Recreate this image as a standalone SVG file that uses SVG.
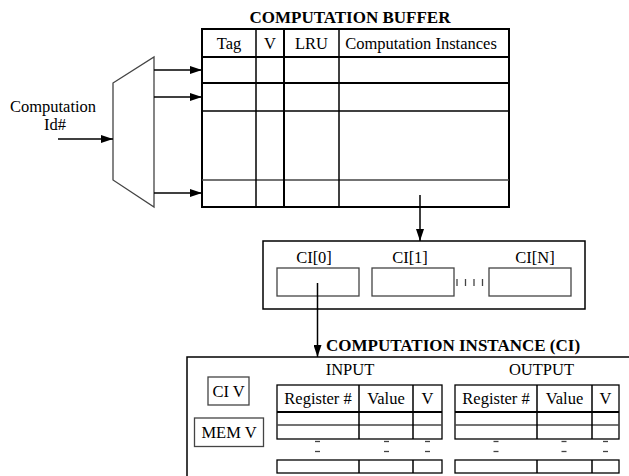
<svg xmlns="http://www.w3.org/2000/svg" width="629" height="476" viewBox="0 0 629 476">
<style>
text{font-family:"Liberation Serif","Times New Roman",serif;font-size:16.5px;fill:#000}
.b{font-weight:bold;font-size:17px}
.m{text-anchor:middle}
.k{stroke:#000;stroke-width:1.5;fill:none}
.kt{stroke:#000;stroke-width:2;fill:none}
.g{stroke:#444;stroke-width:1.3;fill:none}
.w{stroke:#000;stroke-width:1.3;fill:#fff}
.ws{stroke:#444;stroke-width:1.3;fill:#fff}
</style>
<defs>
<marker id="ah" markerWidth="12" markerHeight="8" refX="12" refY="4" orient="auto" markerUnits="userSpaceOnUse">
<path d="M0,0 L12,4 L0,8 Z" fill="#000"/>
</marker>
</defs>

<g id="buffer">
<text class="b m" x="350" y="23">COMPUTATION  BUFFER</text>
<rect class="kt" x="202" y="29" width="307" height="178"/>
<line class="kt" x1="202" y1="57" x2="509" y2="57"/>
<line class="kt" x1="202" y1="83" x2="509" y2="83"/>
<line class="k" x1="202" y1="111" x2="509" y2="111"/>
<line class="g" x1="202" y1="180" x2="509" y2="180"/>
<line class="k" x1="256" y1="29" x2="256" y2="207"/>
<line class="kt" x1="284" y1="29" x2="284" y2="207"/>
<line class="k" x1="339" y1="29" x2="339" y2="207"/>
<text class="m" x="229" y="49">Tag</text>
<text class="m" x="270" y="49">V</text>
<text class="m" x="311.5" y="49">LRU</text>
<text class="m" x="421" y="49">Computation Instances</text>
</g>

<g id="mux">
<polygon class="g" points="113,83 154,57 154,207 113,180"/>
</g>

<g id="input-label">
<text class="m" x="53" y="112">Computation</text>
<text class="m" x="55" y="130">Id#</text>
</g>

<g id="ci-array">
<rect class="k" x="263" y="241" width="322" height="68"/>
<rect class="ws" x="277" y="268" width="82" height="28"/>
<rect class="ws" x="372" y="268" width="82" height="28"/>
<rect class="ws" x="489" y="268" width="82" height="28"/>
<text class="m" x="314" y="263">CI[0]</text>
<text class="m" x="410" y="263">CI[1]</text>
<text class="m" x="535" y="263">CI[N]</text>
<g class="g">
<line x1="457" y1="279" x2="457" y2="286"/>
<line x1="465.5" y1="279" x2="465.5" y2="286"/>
<line x1="474" y1="279" x2="474" y2="286"/>
<line x1="482.5" y1="279" x2="482.5" y2="286"/>
</g>
</g>

<g id="ci-instance">
<text class="b" x="326" y="351">COMPUTATION  INSTANCE (CI)</text>
<path class="k" d="M629,357 H187 V476"/>
<rect class="ws" x="208" y="377" width="41" height="28"/>
<text class="m" x="228.5" y="397">CI V</text>
<rect class="ws" x="194.5" y="418" width="69" height="28.5"/>
<text class="m" x="229" y="438">MEM V</text>
</g>

<g id="input-table">
<text class="m" x="350" y="375">INPUT</text>
<rect class="w" x="277" y="385" width="165" height="54"/>
<line class="kt" x1="277" y1="412" x2="442" y2="412"/>
<line class="g" x1="277" y1="425" x2="442" y2="425"/>
<line class="k" x1="359" y1="385" x2="359" y2="439"/>
<line class="k" x1="413" y1="385" x2="413" y2="439"/>
<rect class="w" x="277" y="460" width="165" height="13"/>
<line class="k" x1="359" y1="460" x2="359" y2="473"/>
<line class="k" x1="413" y1="460" x2="413" y2="473"/>
<text class="m" x="318" y="404">Register #</text>
<text class="m" x="386" y="404">Value</text>
<text class="m" x="427.5" y="404">V</text>
<g class="g">
<line x1="315" y1="441.5" x2="320" y2="441.5"/><line x1="315" y1="451.5" x2="320" y2="451.5"/>
<line x1="384" y1="441.5" x2="389" y2="441.5"/><line x1="384" y1="451.5" x2="389" y2="451.5"/>
<line x1="425" y1="441.5" x2="430" y2="441.5"/><line x1="425" y1="451.5" x2="430" y2="451.5"/>
</g>
</g>

<g id="output-table">
<text class="m" x="541.5" y="375">OUTPUT</text>
<rect class="w" x="455" y="385" width="164" height="54"/>
<line class="kt" x1="455" y1="412" x2="619" y2="412"/>
<line class="g" x1="455" y1="425" x2="619" y2="425"/>
<line class="k" x1="537" y1="385" x2="537" y2="439"/>
<line class="k" x1="592" y1="385" x2="592" y2="439"/>
<rect class="w" x="455" y="460" width="164" height="13"/>
<line class="k" x1="537" y1="460" x2="537" y2="473"/>
<line class="k" x1="592" y1="460" x2="592" y2="473"/>
<text class="m" x="496" y="404">Register #</text>
<text class="m" x="564.5" y="404">Value</text>
<text class="m" x="605.5" y="404">V</text>
<g class="g">
<line x1="493.5" y1="441.5" x2="498.5" y2="441.5"/><line x1="493.5" y1="451.5" x2="498.5" y2="451.5"/>
<line x1="561.5" y1="441.5" x2="566.5" y2="441.5"/><line x1="561.5" y1="451.5" x2="566.5" y2="451.5"/>
<line x1="603" y1="441.5" x2="608" y2="441.5"/><line x1="603" y1="451.5" x2="608" y2="451.5"/>
</g>
</g>

<g id="connectors">
<line class="k" x1="58" y1="139" x2="113" y2="139" marker-end="url(#ah)"/>
<line class="k" x1="154" y1="70" x2="202" y2="70" marker-end="url(#ah)"/>
<line class="k" x1="154" y1="97" x2="202" y2="97" marker-end="url(#ah)"/>
<line class="k" x1="154" y1="193" x2="202" y2="193" marker-end="url(#ah)"/>
<line class="k" x1="420" y1="195" x2="420" y2="241" marker-end="url(#ah)"/>
<line class="k" x1="317.5" y1="283" x2="317.5" y2="357" marker-end="url(#ah)"/>
</g>
</svg>
